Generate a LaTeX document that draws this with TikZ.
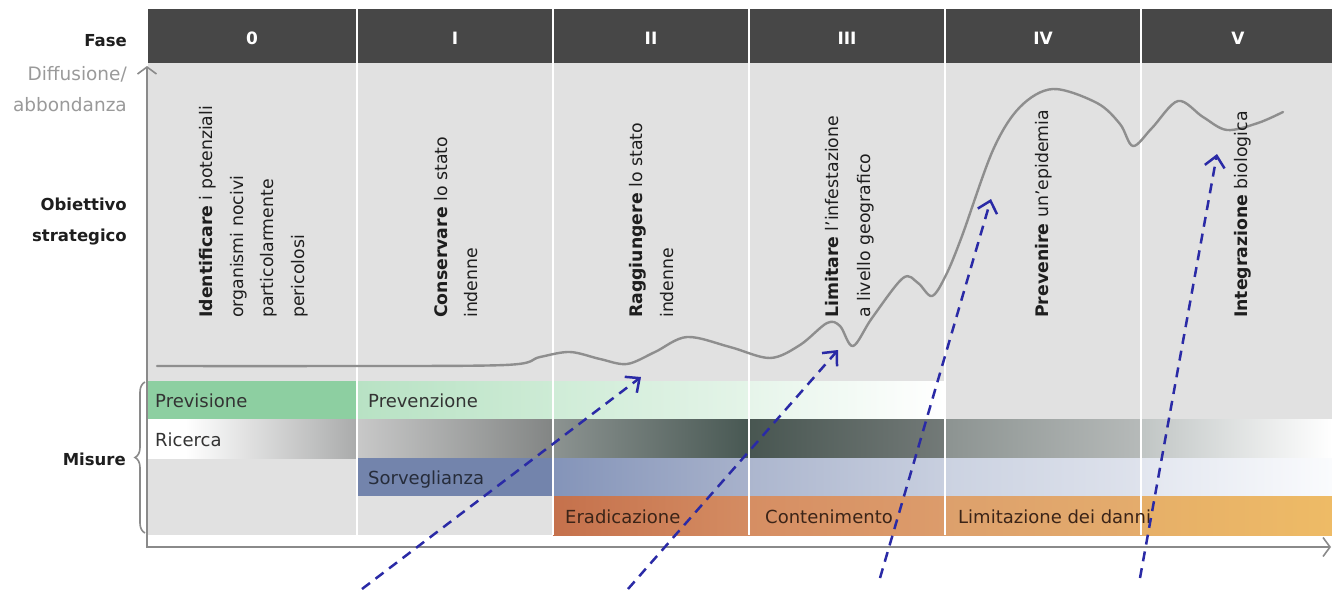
\documentclass[tikz,border=0pt]{standalone}
\usepackage{fontspec}
\setmainfont{DejaVu Sans}
\usetikzlibrary{arrows.meta,decorations.pathreplacing}
\definecolor{hdr}{HTML}{474747}
\definecolor{panel}{HTML}{E1E1E1}
\definecolor{axisgray}{HTML}{8A8A8A}
\definecolor{curvegray}{HTML}{8E8E8E}
\definecolor{arrowblue}{HTML}{2A2AA6}
\definecolor{labgray}{HTML}{9A9A9A}
\definecolor{txtdark}{HTML}{1E1E1E}
\definecolor{bartxt}{HTML}{333333}
\definecolor{orangetxt}{HTML}{3B2418}
\definecolor{greenA}{HTML}{8DCFA1}
\definecolor{survA}{HTML}{7384AC}
\definecolor{ricgray}{RGB}{170,171,171}
\pgfdeclarehorizontalshading{ricfade}{100bp}{color(0bp)=(white); color(34bp)=(white); color(75bp)=(ricgray); color(100bp)=(ricgray)}
\begin{document}
\begin{tikzpicture}[x=1pt,y=-1pt,
  colnum/.style={text=white,font=\fontsize{17}{20}\selectfont\bfseries,inner sep=0pt},
  sidebold/.style={anchor=base east,text=txtdark,font=\fontsize{16.5}{20}\selectfont\bfseries,inner sep=0pt},
  sidegray/.style={anchor=base east,text=labgray,font=\fontsize{18.5}{22}\selectfont,inner sep=0pt},
  barlbl/.style={anchor=base west,text=bartxt,font=\fontsize{18}{22}\selectfont,inner sep=0pt},
  objtxt/.style={rotate=90,anchor=base west,text=txtdark,font=\fontsize{17.3}{20}\selectfont,inner sep=0pt},
  sepline/.style={draw=white,line width=2.5pt},
  darrow/.style={draw=arrowblue,line width=2.5pt,dash pattern=on 10pt off 7pt,
    -{Straight Barb[length=11pt,width=20pt]}},
  axisline/.style={draw=axisgray,line width=1.6pt}
]
\useasboundingbox (0,0) rectangle (1332,589);
\fill[white] (0,0) rectangle (1332,589);
% header and panel
\fill[hdr] (148,9) rectangle (1332,63);
\fill[panel] (148,63) rectangle (1332,535);
% row 1: Previsione / Prevenzione
\fill[greenA] (148,381) rectangle (357,419);
\fill[left color={rgb,255:red,184;green,226;blue,196}, right color={rgb,255:red,205;green,235;blue,213}] (357,381) rectangle (553,419);
\fill[left color={rgb,255:red,207;green,236;blue,215}, right color={rgb,255:red,228;green,244;blue,232}] (553,381) rectangle (749,419);
\fill[left color={rgb,255:red,230;green,245;blue,234}, right color=white] (749,381) rectangle (945,419);
% row 2: Ricerca
\fill[shading=ricfade] (148,419) rectangle (357,458);
\fill[left color={rgb,255:red,200;green,200;blue,200}, right color={rgb,255:red,130;green,133;blue,132}] (357,419) rectangle (553,458);
\fill[left color={rgb,255:red,140;green,147;blue,145}, right color={rgb,255:red,72;green,88;blue,83}] (553,419) rectangle (749,458);
\fill[left color={rgb,255:red,72;green,86;blue,81}, right color={rgb,255:red,115;green,122;blue,120}] (749,419) rectangle (945,458);
\fill[left color={rgb,255:red,140;green,147;blue,145}, right color={rgb,255:red,182;green,186;blue,185}] (945,419) rectangle (1141,458);
\fill[left color={rgb,255:red,192;green,197;blue,196}, right color=white] (1141,419) rectangle (1332,458);
% row 3: Sorveglianza
\fill[survA] (357,458) rectangle (553,496);
\fill[left color={rgb,255:red,132;green,148;blue,185}, right color={rgb,255:red,168;green,178;blue,203}] (553,458) rectangle (749,496);
\fill[left color={rgb,255:red,172;green,182;blue,206}, right color={rgb,255:red,200;green,207;blue,223}] (749,458) rectangle (945,496);
\fill[left color={rgb,255:red,203;green,210;blue,225}, right color={rgb,255:red,222;green,226;blue,236}] (945,458) rectangle (1141,496);
\fill[left color={rgb,255:red,226;green,230;blue,239}, right color={rgb,255:red,250;green,251;blue,253}] (1141,458) rectangle (1332,496);
% row 4: Eradicazione / Contenimento / Limitazione
\fill[left color={rgb,255:red,197;green,113;blue,76}, right color={rgb,255:red,212;green,140;blue,98}] (553,496) rectangle (749,535);
\fill[left color={rgb,255:red,214;green,142;blue,99}, right color={rgb,255:red,220;green,156;blue,107}] (749,496) rectangle (945,535);
\fill[left color={rgb,255:red,221;green,160;blue,108}, right color={rgb,255:red,228;green,172;blue,108}] (945,496) rectangle (1141,535);
\fill[left color={rgb,255:red,230;green,175;blue,104}, right color={rgb,255:red,238;green,187;blue,102}] (1141,496) rectangle (1332,535);
% column separators
\foreach \sx in {357,553,749,945,1141} {
  \draw[sepline] (\sx,9) -- (\sx,535);
}
% curve
\draw[curvegray,line width=2.4pt,line join=round,line cap=round]
  plot[smooth,tension=0.55] coordinates {(157,366) (330,366) (505,365) (540,357) (570,352) (600,359) (627,364) (655,352) (687,337) (730,347) (770,358) (800,345) (827,323) (840,326) (853,346) (872,318) (903,278) (918,283) (932,296) (946,275) (962,236) (993,150) (1020,107) (1053,89) (1097,103) (1120,124) (1133,146) (1152,128) (1178,101) (1203,117) (1227,130) (1258,123) (1283,112)};
% axes
\coordinate (yaxb) at (147,548);
\coordinate (yaxt) at (147,66);
\coordinate (xaxl) at (146,547);
\coordinate (xaxr) at (1331,547);
\draw[axisline,-{Straight Barb[length=7pt,width=19pt]}] (yaxb) -- (yaxt);
\draw[axisline,-{Straight Barb[length=7pt,width=19pt]}] (xaxl) -- (xaxr);
% brace
\coordinate (brb) at (145,533);
\coordinate (brt) at (145,382);
\draw[axisgray,line width=1.6pt,decorate,decoration={brace,amplitude=10pt}] (brb) -- (brt);
% header numbers
\node[colnum] (h0) at (252,38) {0};
\node[colnum] (h1) at (455,38) {I};
\node[colnum] (h2) at (651,38) {II};
\node[colnum] (h3) at (847,38) {III};
\node[colnum] (h4) at (1043,38) {IV};
\node[colnum] (h5) at (1238,38) {V};
% side labels
\node[sidebold] (fase) at (127,46) {Fase};
\node[sidegray] (diff) at (127,80) {Diffusione/};
\node[sidegray] (abb) at (127,111) {abbondanza};
\node[sidebold] (obi) at (127,210) {Obiettivo};
\node[sidebold] (str) at (127,241) {strategico};
\node[sidebold] (mis) at (126,465) {Misure};
% strategic objectives (rotated)
\node[objtxt] (o0a) at (212.5,318) {\bfseries Identificare\mdseries{} i potenziali};
\node[objtxt] (o0b) at (243.5,318) {organismi nocivi};
\node[objtxt] (o0c) at (273.5,318) {particolarmente};
\node[objtxt] (o0d) at (304.5,318) {pericolosi};
\node[objtxt] (o1a) at (447.5,318) {\bfseries Conservare\mdseries{} lo stato};
\node[objtxt] (o1b) at (477.5,318) {indenne};
\node[objtxt] (o2a) at (642.5,318) {\bfseries Raggiungere\mdseries{} lo stato};
\node[objtxt] (o2b) at (673.5,318) {indenne};
\node[objtxt] (o3a) at (838.5,318) {\bfseries Limitare\mdseries{} l’infestazione};
\node[objtxt] (o3b) at (870.5,318) {a livello geografico};
\node[objtxt] (o4a) at (1048.5,318) {\bfseries Prevenire\mdseries{} un’epidemia};
\node[objtxt] (o5a) at (1247.5,318) {\bfseries Integrazione\mdseries{} biologica};
% bar labels
\node[barlbl] (prev) at (155,407) {Previsione};
\node[barlbl] (pvz) at (368,407) {Prevenzione};
\node[barlbl] (ric) at (155,446) {Ricerca};
\node[barlbl,text={rgb,255:red,38;green,44;blue,58}] (sor) at (368,484) {Sorveglianza};
\node[barlbl,text=orangetxt] (era) at (565,523) {Eradicazione};
\node[barlbl,text=orangetxt] (con) at (765,523) {Contenimento};
\node[barlbl,text=orangetxt] (lim) at (958,523) {Limitazione dei danni};
% dashed arrows
\coordinate (a1s) at (362,589);
\coordinate (a1e) at (641,377);
\coordinate (a2s) at (628,589);
\coordinate (a2e) at (838,350);
\coordinate (a3s) at (880,578);
\coordinate (a3e) at (991,199);
\coordinate (a4s) at (1140,578);
\coordinate (a4e) at (1217,154);
\draw[darrow] (a1s) -- (a1e);
\draw[darrow] (a2s) -- (a2e);
\draw[darrow] (a3s) -- (a3e);
\draw[darrow] (a4s) -- (a4e);
\end{tikzpicture}
\end{document}
